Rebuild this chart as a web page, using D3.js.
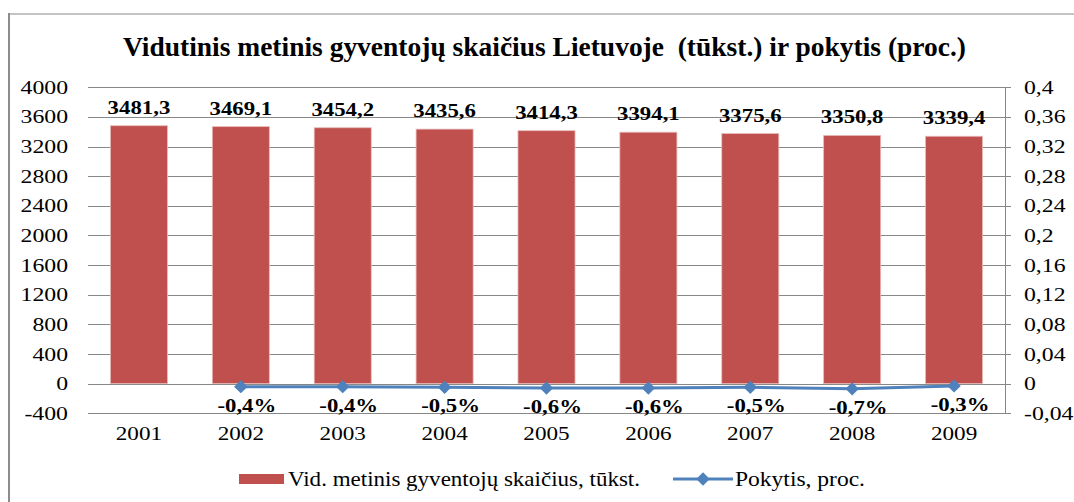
<!DOCTYPE html>
<html>
<head>
<meta charset="utf-8">
<script src="https://cdn.jsdelivr.net/npm/d3@7"></script>
<style>
  html, body { margin: 0; padding: 0; background: #fff; }
  svg { display: block; }
  text { font-family: "Liberation Serif", "Times New Roman", serif; fill: #000; white-space: pre; }
</style>
</head>
<body>
<svg id="chart" width="1074" height="502"></svg>
<script>
const title = "Vidutinis metinis gyventojų skaičius Lietuvoje  (tūkst.) ir pokytis (proc.)";
const years = ["2001", "2002", "2003", "2004", "2005", "2006", "2007", "2008", "2009"];
const population = [3481.3, 3469.1, 3454.2, 3435.6, 3414.3, 3394.1, 3375.6, 3350.8, 3339.4];
const changeYears = ["2002", "2003", "2004", "2005", "2006", "2007", "2008", "2009"];
const change = [-0.004, -0.004, -0.005, -0.006, -0.006, -0.005, -0.007, -0.003];
const leftTicks = [-400, 0, 400, 800, 1200, 1600, 2000, 2400, 2800, 3200, 3600, 4000];
const rightTicks = [-0.04, 0, 0.04, 0.08, 0.12, 0.16, 0.2, 0.24, 0.28, 0.32, 0.36, 0.4];
const seriesNames = ["Vid. metinis gyventojų skaičius, tūkst.", "Pokytis, proc."];

const svg = d3.select("#chart");
const plot = { left: 88, right: 1005, top: 87.3, bottom: 413.3 };
const barColor = "#C0504D", lineColor = "#4F81BD", gridColor = "#878787";

const x = d3.scaleBand().domain(years).range([plot.left, plot.right]).paddingInner(0.44).paddingOuter(0.22);
const xc = d => x(d) + x.bandwidth() / 2;
const yL = d3.scaleLinear().domain([-400, 4000]).range([plot.bottom, plot.top]);
const yR = d3.scaleLinear().domain([-0.04, 0.4]).range([plot.bottom, plot.top]);
const comma = (v, dec) => d3.format("." + dec + "f")(v).replace(".", ",").replace("−", "-");
const fmtR = v => d3.format("~g")(+v.toFixed(2)).replace(".", ",").replace("−", "-");

function placeStretched(sel, sx) {
  sel.attr("transform", function () {
    const px = +this.getAttribute("data-x"), py = +this.getAttribute("data-y");
    return `translate(${px},${py}) scale(${sx},1)`;
  });
}

// chart frame
svg.append("line").attr("x1", 8).attr("x2", 1074).attr("y1", 14).attr("y2", 14)
  .attr("stroke", "#c4c4c4").attr("stroke-width", 2);
svg.append("line").attr("x1", 9).attr("x2", 9).attr("y1", 13).attr("y2", 502)
  .attr("stroke", "#8c8c8c").attr("stroke-width", 2);

// title
svg.append("text").attr("xml:space", "preserve").text(title)
  .attr("x", 544.5).attr("y", 56).attr("text-anchor", "middle")
  .style("font-size", "28px").style("font-weight", "bold")
  .attr("textLength", 843).attr("lengthAdjust", "spacingAndGlyphs");

// gridlines
svg.append("g").selectAll("line").data(leftTicks).join("line")
  .attr("x1", plot.left).attr("x2", plot.right + 6)
  .attr("y1", d => Math.round(yL(d)) + 0.5).attr("y2", d => Math.round(yL(d)) + 0.5)
  .attr("stroke", gridColor).attr("stroke-width", 1);
svg.append("line").attr("x1", plot.right + 0.5).attr("x2", plot.right + 0.5)
  .attr("y1", yR(0.4)).attr("y2", yR(-0.04)).attr("stroke", gridColor);

// left tick labels
svg.append("g").selectAll("text").data(leftTicks).join("text")
  .text(d => d)
  .attr("data-x", 68).attr("data-y", d => yL(d) + 6.5)
  .attr("text-anchor", "end").style("font-size", "19px")
  .call(placeStretched, 1.25);

// right tick labels
svg.append("g").selectAll("text").data(rightTicks).join("text")
  .text(d => fmtR(d))
  .attr("data-x", 1024).attr("data-y", d => yR(d) + 6.5)
  .attr("text-anchor", "start").style("font-size", "19px")
  .call(placeStretched, 1.25);

// bars
svg.append("g").selectAll("rect").data(years).join("rect")
  .attr("x", d => x(d)).attr("width", x.bandwidth())
  .attr("y", (d, i) => yL(population[i]))
  .attr("height", (d, i) => yL(0) - yL(population[i]))
  .attr("fill", barColor).attr("stroke", "#e8bcbb").attr("stroke-width", 0.8);

// bar labels
svg.append("g").selectAll("text").data(years).join("text")
  .text((d, i) => comma(population[i], 1))
  .attr("data-x", d => xc(d)).attr("data-y", (d, i) => yL(population[i]) - 12)
  .attr("text-anchor", "middle").style("font-size", "19px").style("font-weight", "bold")
  .call(placeStretched, 1.2);

// year labels
svg.append("g").selectAll("text").data(years).join("text")
  .text(d => d)
  .attr("data-x", d => xc(d)).attr("data-y", 440)
  .attr("text-anchor", "middle").style("font-size", "19px")
  .call(placeStretched, 1.22);

// line
const line = d3.line().x(d => xc(d)).y((d, i) => yR(change[i]));
svg.append("path").datum(changeYears).attr("d", line)
  .attr("fill", "none").attr("stroke", lineColor).attr("stroke-width", 3);
const diamond = d3.symbol().type(d3.symbolDiamond2).size(115);
svg.append("g").selectAll("path").data(changeYears).join("path")
  .attr("d", diamond)
  .attr("transform", (d, i) => `translate(${xc(d)},${yR(change[i])})`)
  .attr("fill", lineColor);

// percent labels
svg.append("g").selectAll("text").data(changeYears).join("text")
  .text((d, i) => comma(change[i] * 100, 1) + "%")
  .attr("data-x", d => xc(d) + 6).attr("data-y", (d, i) => yR(change[i]) + 25)
  .attr("text-anchor", "middle").style("font-size", "19px").style("font-weight", "bold")
  .call(placeStretched, 1.2);

// legend
const lg = svg.append("g");
lg.append("rect").attr("x", 239).attr("y", 474).attr("width", 45).attr("height", 10).attr("fill", barColor);
lg.append("text").text(seriesNames[0]).attr("x", 288).attr("y", 485.5)
  .style("font-size", "21px").attr("textLength", 352).attr("lengthAdjust", "spacingAndGlyphs");
lg.append("line").attr("x1", 673).attr("x2", 733).attr("y1", 479).attr("y2", 479)
  .attr("stroke", lineColor).attr("stroke-width", 3);
lg.append("path").attr("d", diamond).attr("transform", "translate(703,479)").attr("fill", lineColor);
lg.append("text").text(seriesNames[1]).attr("x", 735).attr("y", 485.5)
  .style("font-size", "21px").attr("textLength", 130).attr("lengthAdjust", "spacingAndGlyphs");
</script>
</body>
</html>
